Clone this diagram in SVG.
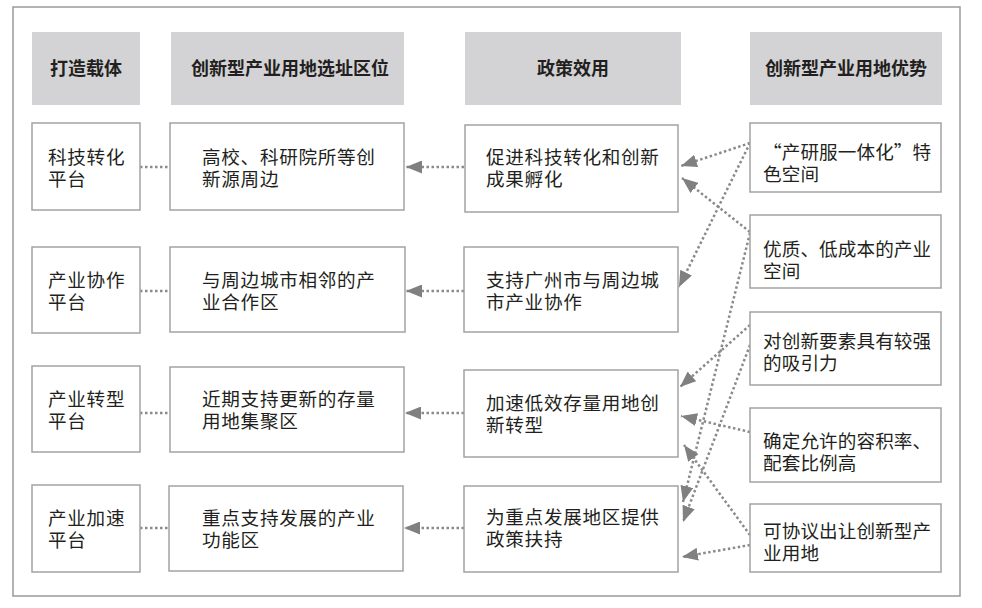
<svg xmlns="http://www.w3.org/2000/svg" width="982" height="608" viewBox="0 0 982 608">
<style>
.frame{fill:none;stroke:#9a9a9a;stroke-width:1.5}
.hdr{fill:#d3d3d5}
.box{fill:#ffffff;stroke:#a3a3a3;stroke-width:1.5}
.ht{font-family:"Noto Sans CJK SC","Noto Sans",sans-serif;font-size:18px;font-weight:bold;fill:#231f20;text-anchor:middle}
.t{font-family:"Noto Sans CJK SC","Noto Sans",sans-serif;font-size:18.6px;letter-spacing:0.7px;fill:#231f20}
.r{letter-spacing:0.1px}
.dot{fill:none;stroke:#8a8a8a;stroke-width:2.5;stroke-dasharray:2.5 2.5}
.arr{fill:none;stroke:#8a8a8a;stroke-width:2.5;stroke-dasharray:2.5 2.5;marker-end:url(#ah)}
</style>
<defs>
<marker id="ah" markerUnits="userSpaceOnUse" markerWidth="17" markerHeight="13" refX="16" refY="6.5" orient="auto">
<path d="M0,0 L16,6.5 L0,13 z" fill="#808080"/>
</marker>
</defs>
<rect class="frame" x="13" y="7" width="947" height="589"/>
<g id="headers">
<g id="h1"><rect class="hdr" x="32" y="32" width="108" height="73"/><text class="ht" x="86" y="75">打造载体</text></g>
<g id="h2"><rect class="hdr" x="171" y="32" width="233" height="73"/><text class="ht" x="290" y="75">创新型产业用地选址区位</text></g>
<g id="h3"><rect class="hdr" x="465" y="32" width="216" height="73"/><text class="ht" x="573" y="75">政策效用</text></g>
<g id="h4"><rect class="hdr" x="750" y="32" width="192" height="73"/><text class="ht" x="846" y="75">创新型产业用地优势</text></g>
</g>
<g id="connectors">
<path class="dot" d="M140,167 H170"/>
<path class="dot" d="M140,291 H170"/>
<path class="dot" d="M140,413 H170"/>
<path class="dot" d="M140,528 H169"/>
<path class="arr" d="M464,167 H406"/>
<path class="arr" d="M464,291 H406"/>
<path class="arr" d="M464,413 H405"/>
<path class="arr" d="M464,528 H404"/>
<path class="arr" d="M750,143 L681,166"/>
<path class="arr" d="M750,143 L679,287"/>
<path class="arr" d="M750,232 L682,178"/>
<path class="arr" d="M750,233 L683,502"/>
<path class="arr" d="M750,325 L680,387"/>
<path class="arr" d="M750,345 L683,522"/>
<path class="arr" d="M750,432 L681,416"/>
<path class="arr" d="M750,535 L684,445"/>
<path class="arr" d="M750,545 L682,557"/>
</g>
<g id="c1r1"><rect class="box" x="32" y="123" width="108" height="87"/><text class="t"><tspan x="48" y="164">科技转化</tspan><tspan x="48" y="186">平台</tspan></text></g>
<g id="c1r2"><rect class="box" x="32" y="247" width="108" height="86"/><text class="t"><tspan x="48" y="287">产业协作</tspan><tspan x="48" y="309">平台</tspan></text></g>
<g id="c1r3"><rect class="box" x="32" y="366" width="108" height="86"/><text class="t"><tspan x="48" y="406">产业转型</tspan><tspan x="48" y="428">平台</tspan></text></g>
<g id="c1r4"><rect class="box" x="32" y="485" width="108" height="87"/><text class="t"><tspan x="48" y="525">产业加速</tspan><tspan x="48" y="547">平台</tspan></text></g>
<g id="c2r1"><rect class="box" x="170" y="123" width="234" height="87"/><text class="t"><tspan x="202" y="164">高校、科研院所等创</tspan><tspan x="202" y="186">新源周边</tspan></text></g>
<g id="c2r2"><rect class="box" x="170" y="247" width="235" height="85"/><text class="t"><tspan x="202" y="287">与周边城市相邻的产</tspan><tspan x="202" y="309">业合作区</tspan></text></g>
<g id="c2r3"><rect class="box" x="170" y="367" width="234" height="85"/><text class="t"><tspan x="202" y="406">近期支持更新的存量</tspan><tspan x="202" y="428">用地集聚区</tspan></text></g>
<g id="c2r4"><rect class="box" x="169" y="486" width="234" height="85"/><text class="t"><tspan x="202" y="525">重点支持发展的产业</tspan><tspan x="202" y="547">功能区</tspan></text></g>
<g id="c3r1"><rect class="box" x="465" y="125" width="213" height="87"/><text class="t"><tspan x="486" y="164">促进科技转化和创新</tspan><tspan x="486" y="186">成果孵化</tspan></text></g>
<g id="c3r2"><rect class="box" x="464" y="247" width="214" height="85"/><text class="t"><tspan x="486" y="287">支持广州市与周边城</tspan><tspan x="486" y="309">市产业协作</tspan></text></g>
<g id="c3r3"><rect class="box" x="464" y="370" width="214" height="87"/><text class="t"><tspan x="486" y="410">加速低效存量用地创</tspan><tspan x="486" y="432">新转型</tspan></text></g>
<g id="c3r4"><rect class="box" x="464" y="486" width="214" height="86"/><text class="t"><tspan x="486" y="524">为重点发展地区提供</tspan><tspan x="486" y="546">政策扶持</tspan></text></g>
<g id="c4r1"><rect class="box" x="750" y="123" width="191" height="69"/><text class="t r"><tspan x="763" y="159">“产研服一体化”特</tspan><tspan x="763" y="181">色空间</tspan></text></g>
<g id="c4r2"><rect class="box" x="750" y="215" width="191" height="73"/><text class="t r"><tspan x="763" y="256">优质、低成本的产业</tspan><tspan x="763" y="278">空间</tspan></text></g>
<g id="c4r3"><rect class="box" x="750" y="312" width="191" height="73"/><text class="t r"><tspan x="763" y="348">对创新要素具有较强</tspan><tspan x="763" y="370">的吸引力</tspan></text></g>
<g id="c4r4"><rect class="box" x="750" y="408" width="191" height="74"/><text class="t r"><tspan x="763" y="448">确定允许的容积率、</tspan><tspan x="763" y="470">配套比例高</tspan></text></g>
<g id="c4r5"><rect class="box" x="750" y="504" width="191" height="68"/><text class="t r"><tspan x="763" y="538">可协议出让创新型产</tspan><tspan x="763" y="560">业用地</tspan></text></g>
</svg>
